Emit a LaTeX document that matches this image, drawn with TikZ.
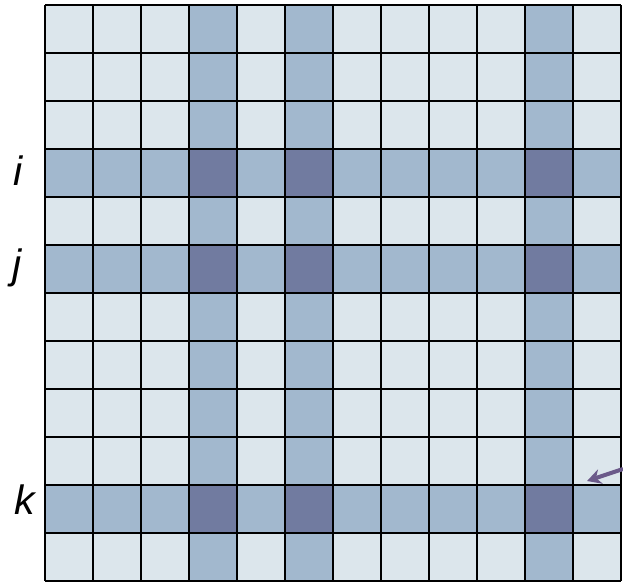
\documentclass[tikz,border=0pt]{standalone}
\usepackage{fontspec}
\setmainfont{Liberation Sans}
\usetikzlibrary{arrows.meta}
\definecolor{cellpale}{HTML}{DCE6EC}
\definecolor{cellmid}{HTML}{A2B8CE}
\definecolor{celldark}{HTML}{717BA0}
\definecolor{arrowpurple}{HTML}{6B5A8A}
\begin{document}
\begin{tikzpicture}[x=1pt,y=-1pt,>=Stealth]
\tikzstyle{gridline}=[draw=black,line width=2.8pt]
\tikzstyle{lbl}=[inner sep=0pt,font=\fontsize{41}{41}\selectfont\itshape]
\useasboundingbox (0,0) rectangle (623,582);
% cells: rows/cols 3,5,10 are marked
\foreach \r in {0,...,11}
  \foreach \c in {0,...,11} {
    \pgfmathtruncatemacro{\hl}{or(or(\r==3,\r==5),\r==10)+or(or(\c==3,\c==5),\c==10)}
    \ifcase\hl \def\cellcol{cellpale}\or \def\cellcol{cellmid}\or \def\cellcol{celldark}\fi
    \fill[\cellcol] (45+48*\c,5+48*\r) rectangle ++(48,48);
  }
\foreach \n in {0,...,12} {
  \draw[gridline] (45+48*\n,5) -- (45+48*\n,581);
  \draw[gridline] (45,5+48*\n) -- (621,5+48*\n);
}
\node[lbl] (li) at (18,171) {i};
\node[lbl] (lj) at (17,268) {j};
\node[lbl] (lk) at (25,500) {k};
\coordinate (tail) at (623,469);
\coordinate (tip) at (587,481);
\draw[->,arrowpurple,line width=4pt,>={Stealth[length=14pt,width=15pt]}] (tail) -- (tip);
\end{tikzpicture}
\end{document}
